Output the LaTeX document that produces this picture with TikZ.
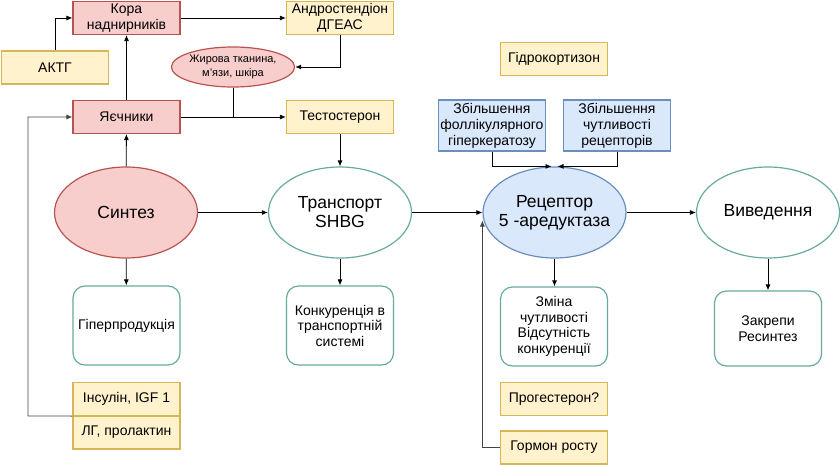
\documentclass[tikz,border=0pt]{standalone}
\usepackage{fontspec}
\setmainfont{Liberation Sans}
\usetikzlibrary{arrows.meta,shapes.geometric}
\definecolor{redfill}{HTML}{F8CECC}
\definecolor{redline}{HTML}{B85450}
\definecolor{yelfill}{HTML}{FFF2CC}
\definecolor{yelline}{HTML}{D6B656}
\definecolor{bluefill}{HTML}{DAE8FC}
\definecolor{blueline}{HTML}{6C8EBF}
\definecolor{tealline}{HTML}{67AB9F}
\definecolor{greyline}{HTML}{444444}
\tikzset{
  box/.style={draw, line width=1.2pt, minimum width=107pt, minimum height=33pt, inner sep=0pt, align=center, font=\fontsize{14}{16}\selectfont},
  redbox/.style={box, draw=redline, fill=redfill},
  yelbox/.style={box, draw=yelline, fill=yelfill},
  bluebox/.style={box, draw=blueline, fill=bluefill, minimum height=51pt},
  resbox/.style={box, draw=tealline, fill=white, rounded corners=12pt, minimum height=79pt, font=\fontsize{14}{15.5}\selectfont},
  oval/.style={ellipse, draw, line width=1.2pt, minimum width=143pt, minimum height=91pt, inner xsep=-8pt, inner ysep=0pt, align=center, font=\fontsize{17.5}{19}\selectfont},
  arr/.style={-{Latex[length=6pt,width=5pt]}, line width=0.8pt},
}
\begin{document}
\begin{tikzpicture}[x=1pt,y=-1pt]
        \useasboundingbox (0,0) rectangle (840,465);
        % top row
        \node[redbox] (kora) at (126.5,18) {Кора\\наднирників};
        \node[yelbox] (andro) at (340,18) {Андростендіон\\ДГЕАС};
        \node[yelbox] (aktg) at (55,67.5) {АКТГ};
        \node[ellipse, draw=redline, fill=redfill, line width=1.2pt, minimum width=108pt, minimum height=40pt, inner sep=0pt, align=center, font=\fontsize{11}{14.5}\selectfont] (fat) at (233,67) {Жирова тканина,\\м'язи, шкіра};
        \node[redbox] (ovary) at (126.5,117) {Яєчники};
        \node[yelbox] (testo) at (340,117) {Тестостерон};
        \node[yelbox] (hydro) at (554,59) {Гідрокортизон};
        \node[bluebox] (foll) at (492,125.5) {Збільшення\\фоллікулярного\\гіперкератозу};
        \node[bluebox] (sens) at (617,125.5) {Збільшення\\чутливості\\рецепторів};

        % main chain
        \node[oval, draw=redline, fill=redfill] (synth) at (126,212.5) {Синтез};
        \node[oval, draw=tealline, fill=white] (transport) at (340,212.5) {Транспорт\\SHBG};
        \node[oval, draw=blueline, fill=bluefill] (receptor) at (554.5,212.5) {Рецептор\\5 -аредуктаза};
        \node[oval, draw=tealline, fill=white] (exit) at (768,212.5) {Виведення};

        % results
        \node[resbox] (hyper) at (126.5,325.5) {Гіперпродукція};
        \node[resbox] (compet) at (340,325.5) {Конкуренція в\\транспортній\\системі};
        \node[resbox] (change) at (554,326.5) {Зміна\\чутливості\\Відсутність\\конкуренції};
        \node[resbox, minimum height=75pt] (fix) at (768,328.5) {Закрепи\\Ресинтез};

        % bottom hormones
        \node[yelbox] (insulin) at (126.5,399) {Інсулін, IGF 1};
        \node[yelbox] (lh) at (126.5,432.5) {ЛГ, пролактин};
        \node[yelbox] (proges) at (554,399) {Прогестерон?};
        \node[yelbox] (growth) at (554,447.5) {Гормон росту};

        \coordinate (leftbend) at (28,416);

        \draw[arr] (aktg.north) |- (kora.west);
        \draw[arr] (kora) -- (andro);
        \draw[arr] (andro.south) |- (fat.east);
        \draw[arr] (ovary) -- (testo);
        \draw[line width=0.8pt] (fat.south) -- (fat.south |- ovary.east);
        \draw[arr] (ovary) -- (kora);
        \draw[arr] (synth) -- (ovary);
        \draw[arr] (testo) -- (transport);
        \draw[arr, greyline] (insulin.south west) -- (leftbend) |- (ovary.west);

        \draw[arr] (synth) -- (transport);
        \draw[arr] (transport) -- (receptor);
        \draw[arr] (receptor) -- (exit);
        \draw[arr] (foll.south) |- ([xshift=-3pt]receptor.north);
        \draw[arr] (sens.south) |- ([xshift=3pt]receptor.north);
        \draw[arr, greyline] (growth.west) -| ([yshift=-8pt]receptor.west);

        \draw[arr] (synth) -- (hyper);
        \draw[arr] (transport) -- (compet);
        \draw[arr] (receptor.south) -- (change.north -| receptor.south);
        \draw[arr] (exit) -- (fix);
\end{tikzpicture}
\end{document}
